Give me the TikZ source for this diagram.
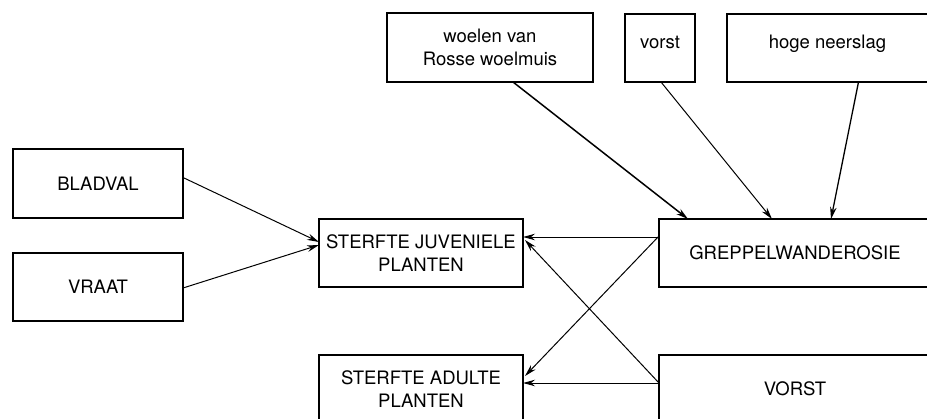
\documentclass[tikz,border=0pt]{standalone}
\usepackage{fontspec}
\setmainfont{TeX Gyre Heros}
\usetikzlibrary{arrows.meta,positioning}

\begin{document}
\begin{tikzpicture}[x=1pt, y=-1pt,
    box/.style={draw, rectangle, line width=1.7pt, outer sep=0pt, inner sep=0pt, align=center, font=\fontsize{18.5}{23.5}\selectfont},
    arr/.style={-{Stealth[length=12pt,width=6.5pt]}, line width=1pt}]
  \useasboundingbox (0,0) rectangle (927,418);
  \clip (0,0) rectangle (927,418);
  % top row: causes of erosion
  \node[box, minimum width=206pt, minimum height=69pt] (woelen) at (490,47.5) {woelen van\\Rosse woelmuis};
  \node[box, minimum width=70pt, minimum height=68pt] (vorsttop) at (660,48) {vorst\\[-12pt]\mbox{}};
  \node[box, minimum width=201pt, minimum height=68pt] (neerslag) at (827.5,48) {hoge neerslag\\[-12pt]\mbox{}};
  % left column
  \node[box, minimum width=170pt, minimum height=69pt] (bladval) at (98,183.5) {BLADVAL};
  \node[box, minimum width=170pt, minimum height=68pt] (vraat) at (98,287) {VRAAT};
  % mortality
  \node[box, minimum width=204pt, minimum height=68pt] (juveniel) at (421,253) {STERFTE JUVENIELE\\PLANTEN};
  \node[box, minimum width=204pt, minimum height=68pt] (adult) at (421,389) {STERFTE ADULTE\\PLANTEN};
  % right column
  \node[box, minimum width=272pt, minimum height=68pt] (erosie) at (795,253) {GREPPELWANDEROSIE};
  \node[box, minimum width=272pt, minimum height=68pt] (vorst) at (795,389) {VORST};

  \draw[arr] ([yshift=6pt]bladval.east) -- ([yshift=11pt]juveniel.west);
  \draw[arr] ([yshift=-1pt]vraat.east) -- ([yshift=8pt]juveniel.west);
  \draw[arr, line width=1.5pt] ([xshift=23pt]woelen.south) -- ([xshift=-107pt]erosie.north);
  \draw[arr] ([xshift=1pt]vorsttop.south) -- ([xshift=-23pt]erosie.north);
  \draw[arr, line width=1.3pt] ([xshift=31pt]neerslag.south) -- ([xshift=36pt]erosie.north);
  \draw[arr] ([yshift=16pt]erosie.west) -- ([yshift=16pt]juveniel.east);
  \draw[arr] ([yshift=17pt]erosie.west) -- ([yshift=13pt,xshift=2pt]adult.east);
  \draw[arr] ([yshift=6pt]vorst.west) -- ([yshift=6pt]adult.east);
  \draw[arr] ([yshift=6pt]vorst.west) -- ([yshift=13pt,xshift=2pt]juveniel.east);
\end{tikzpicture}
\end{document}
